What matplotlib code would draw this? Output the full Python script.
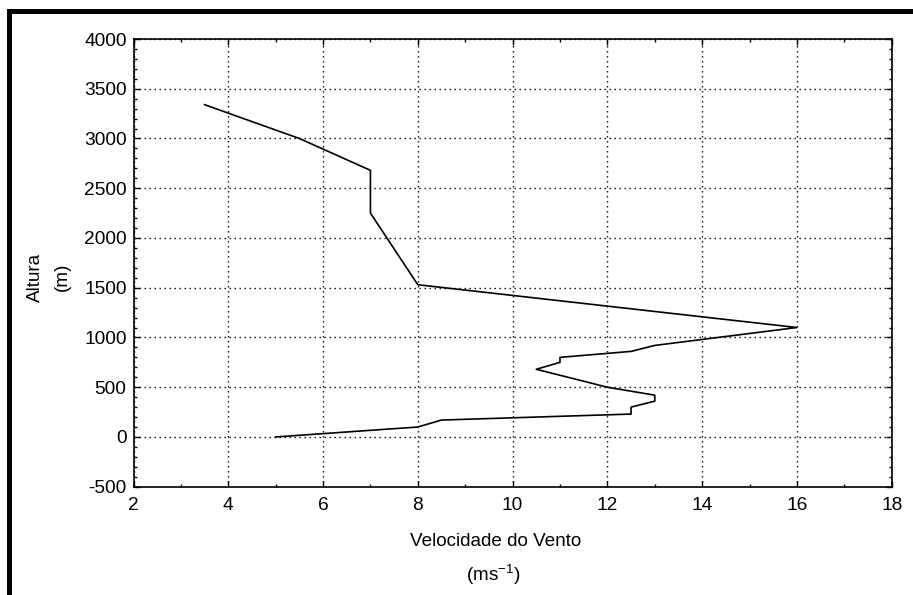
import matplotlib
matplotlib.use("Agg")
import matplotlib.pyplot as plt
from matplotlib.patches import Rectangle
from matplotlib.ticker import MultipleLocator

plt.rcParams['font.family'] = ['Liberation Sans', 'DejaVu Sans']
plt.rcParams['axes.unicode_minus'] = False
plt.rcParams['mathtext.fontset'] = 'custom'
plt.rcParams['mathtext.rm'] = 'Liberation Sans'

# Vertical wind profile: wind speed (m/s) at each height (m)
altura = [0, 100, 170, 230, 300, 360, 420, 500, 680, 750, 800, 860, 920,
          1100, 1530, 2250, 2680, 3000, 3340]
velocidade = [5, 8, 8.5, 12.5, 12.5, 13, 13, 12, 10.5, 11, 11, 12.5, 13,
              16, 8, 7, 7, 5.5, 3.5]

x_ticks = [2, 4, 6, 8, 10, 12, 14, 16, 18]
y_ticks = [-500, 0, 500, 1000, 1500, 2000, 2500, 3000, 3500, 4000]

W, H = 913, 595
fig = plt.figure(figsize=(W / 100, H / 100), dpi=100)
fig.patch.set_facecolor('white')

# Thick frame along the top and left edges of the page
fig.patches.append(Rectangle((7 / W, 0), 5 / W, 1 - 9 / H, transform=fig.transFigure,
                             facecolor='black', edgecolor='none'))
fig.patches.append(Rectangle((7 / W, 1 - 14 / H), 1 - 7 / W, 5 / H, transform=fig.transFigure,
                             facecolor='black', edgecolor='none'))

left, right = 133.5 / W, 891.7 / W
top, bottom = 1 - 39 / H, 1 - 486.7 / H
ax = fig.add_axes([left, bottom, right - left, top - bottom])

ax.plot(velocidade, altura, color='black', linewidth=1.2)

ax.set_xlim(2, 18)
ax.set_ylim(-500, 4000)
ax.set_xticks(x_ticks)
ax.set_yticks(y_ticks)
ax.xaxis.set_minor_locator(MultipleLocator(1))
ax.yaxis.set_minor_locator(MultipleLocator(100))

ax.grid(True, which='major', color='black', linestyle=(0, (1, 2.6)), linewidth=1.0)
ax.tick_params(which='both', direction='in', top=True, right=True, colors='black',
               labelsize=13.8, width=1.0)
ax.tick_params(which='major', length=4)
ax.tick_params(which='minor', length=2.5)
ax.tick_params(axis='x', pad=7.5)
ax.tick_params(axis='y', pad=5)
for s in ax.spines.values():
    s.set_linewidth(1.2)
    s.set_color('black')

# Axis titles
fig.text(496 / W, 1 - 541.5 / H, 'Velocidade do Vento', ha='center', va='center', fontsize=13.6)
fig.text(493 / W, 1 - 575 / H, r'(ms$^{\mathregular{-1}}$)', ha='center', va='center', fontsize=13.6)
fig.text(35 / W, 1 - 277 / H, 'Altura', ha='center', va='center', rotation=90, fontsize=13.6)
fig.text(62 / W, 1 - 277 / H, '(m)', ha='center', va='center', rotation=90, fontsize=13.6)

fig.savefig('out.png', dpi=100, facecolor='white')
